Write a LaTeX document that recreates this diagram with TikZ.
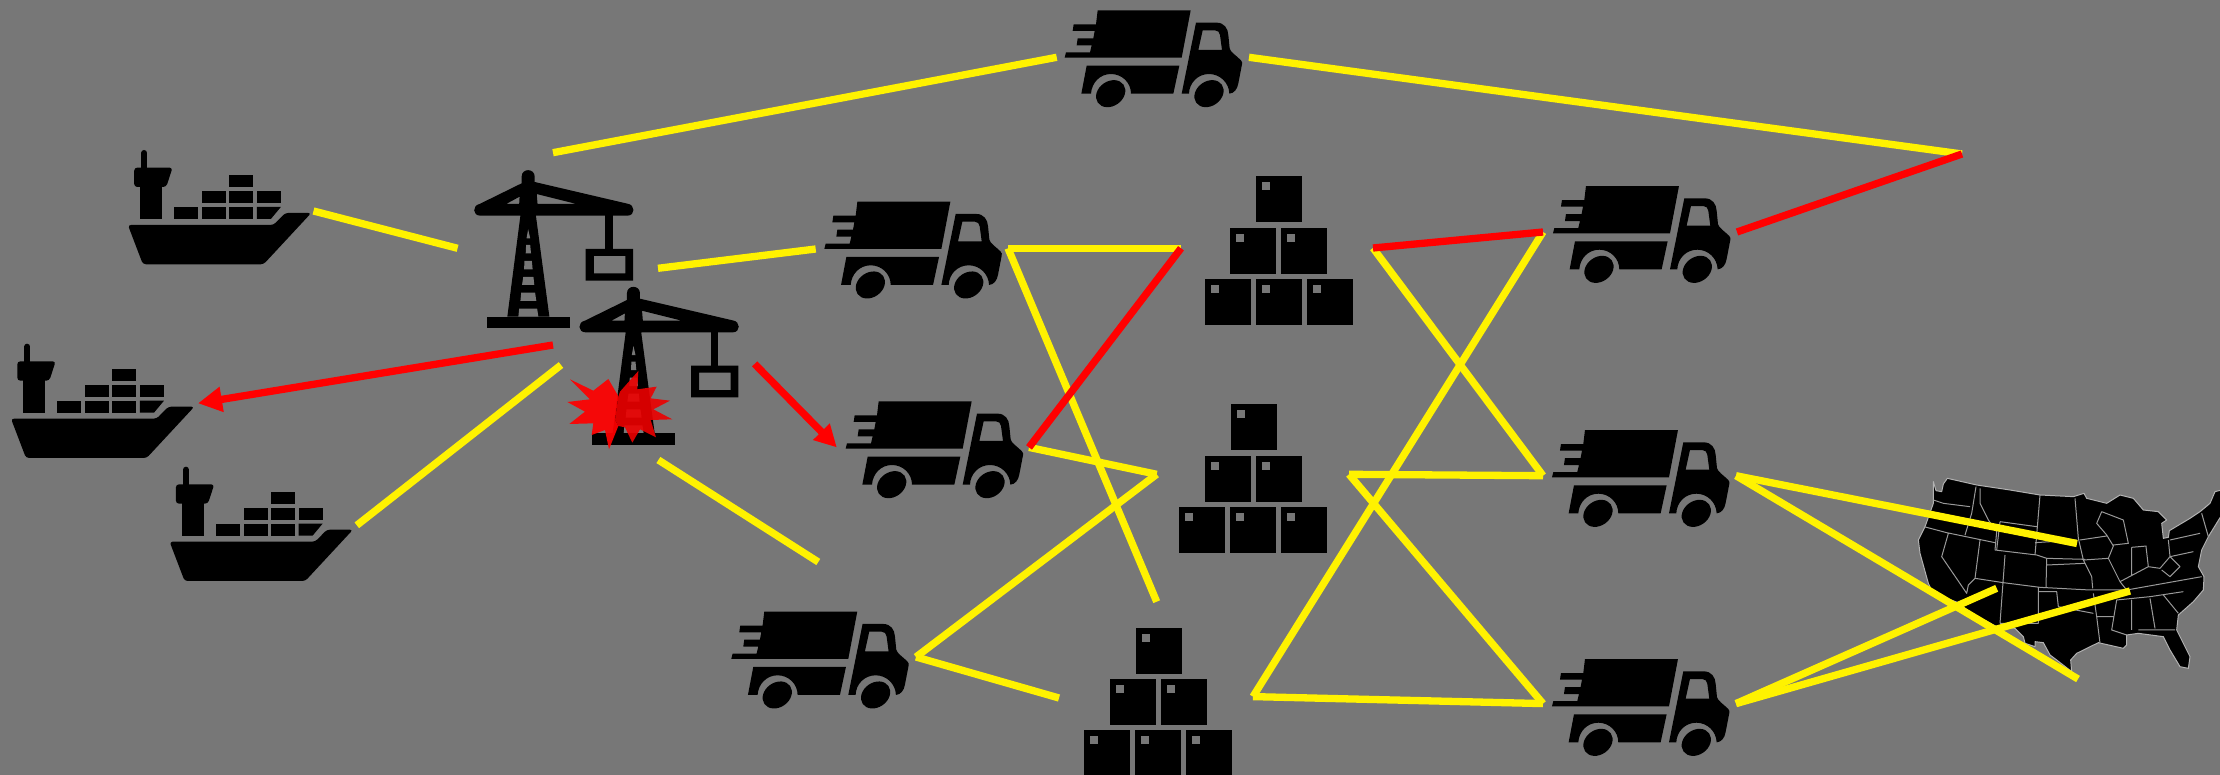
\documentclass[tikz,border=0pt]{standalone}
\usetikzlibrary{arrows.meta}
\definecolor{bgc}{HTML}{777777}
\def\usaoutline{(100,65) -- (108,92) -- (125,95) -- (130,72) -- (142,55) -- (230,75) -- (330,90) -- (420,105) -- (520,110) -- (552,100) -- (560,115) -- (620,130) -- (660,105) -- (700,115) -- (730,150) -- (775,155) -- (800,180) -- (785,190) -- (790,235) -- (805,232) -- (808,212) -- (870,175) -- (900,155) -- (930,130) -- (945,95) -- (965,90) -- (965,165) -- (925,230) -- (905,270) -- (895,320) -- (912,350) -- (910,390) -- (880,425) -- (835,465) -- (830,510) -- (870,590) -- (865,625) -- (840,620) -- (810,570) -- (790,530) -- (715,520) -- (680,525) -- (680,555) -- (670,565) -- (595,548) -- (530,580) -- (512,600) -- (515,635) -- (470,600) -- (450,585) -- (430,548) -- (405,545) -- (405,560) -- (375,550) -- (370,530) -- (345,505) -- (290,500) -- (205,455) -- (180,430) -- (100,400) -- (85,370) -- (60,280) -- (55,240) -- (75,200) -- (100,130) -- cycle}
\tikzset{
  yline/.style={draw=yellow,line width=7.3pt},
  rline/.style={draw=red,line width=7.3pt},
  cargobox/.pic={
    \fill (0,0) rectangle (46,46);
    \fill[bgc] (6,6) rectangle (14,14);
  },
  boxpile/.pic={
    \foreach \dx/\dy in {0/0,51/0,102/0,25.7/-51,76.7/-51,51.3/-102.5}{
      \pic at (\dx,\dy) {cargobox};
    }
  },
  truck/.pic={
    \begin{scope}[x=0.33333pt,y=-0.33333pt]
    \fill (893,31) -- (1172,31) -- (1145,173) -- (794,173) -- (798,157) -- (870,157) -- (875,136) -- (830,136) -- (833,115) -- (880,115) -- (884,93) -- (818,93) -- (821,73) -- (888,73) -- cycle;
    \fill (860,197) -- (1138,197) -- (1120,281) -- (993,281) .. controls (993,248) and (966,222) .. (933,222) .. controls (900,222) and (875,248) .. (873,281) -- (844,281) -- cycle;
    \fill[even odd rule] (1188,68) -- (1250,68) .. controls (1272,68) and (1284,85) .. (1285,105) -- (1289,145) .. controls (1290,155) and (1310,168) .. (1322,180) .. controls (1327,185) and (1327,188) .. (1326,193) -- (1315,250) .. controls (1312,268) and (1302,280) .. (1288,281) .. controls (1287,248) and (1260,222) .. (1227,222) .. controls (1194,222) and (1168,248) .. (1167,281) -- (1145,281) -- cycle
      (1208,91) -- (1245,91) .. controls (1254,91) and (1259,97) .. (1260,105) -- (1266,150) -- (1195,150) -- cycle;
    \fill[shift={(932,281)},rotate=35] (0,0) ellipse[x radius=47,y radius=37];
    \fill[shift={(1227,281)},rotate=35] (0,0) ellipse[x radius=47,y radius=37];
    \end{scope}
  },
  ship/.pic={
    \begin{scope}[x=0.33333pt,y=-0.33333pt]
    \draw[line width=6pt,line cap=round] (82,50) -- (82,100);
    \fill[rounded corners=3pt] (52,94) -- (167,94) -- (148,152) -- (52,152) -- cycle;
    \fill (70,148) rectangle (136,248);
    \fill (171,212) rectangle (243,248);
    \fill (255,212) rectangle (327,248);
    \fill (336,212) rectangle (408,248);
    \fill (420,212) -- (492,212) -- (462,248) -- (420,248) -- cycle;
    \fill (255,165) rectangle (327,201);
    \fill (336,165) rectangle (408,201);
    \fill (420,165) rectangle (492,201);
    \fill (336,117) rectangle (408,153);
    \fill[rounded corners=3pt] (33,266) -- (470,266) -- (505,230) -- (583,230) -- (440,384) -- (78,384) -- cycle;
    \end{scope}
  },
  crane/.pic={
    \begin{scope}[x=0.40816pt,y=-0.33333pt]
    \fill[even odd rule] (1033,140) .. controls (1033,114) and (1065,114) .. (1065,140) -- (1065,156) -- (1292,221)
      .. controls (1312,224) and (1312,257) .. (1292,257) -- (1068,257) -- (1101,560) -- (998,560) -- (1030,257) -- (932,257)
      .. controls (912,257) and (912,226) .. (930,222) -- (1033,160) -- cycle
      (995,222) -- (1028,200) -- (1027,222) -- cycle
      (1070,192) -- (1168,222) -- (1072,222) -- cycle;
    \fill[bgc] (1049,298) -- (1054,325) -- (1045,325) -- cycle;
    \fill[bgc] (1044,345) -- (1054,345) -- (1056,370) -- (1043,370) -- cycle;
    \fill[bgc] (1040,393) -- (1058,393) -- (1060,418) -- (1039,418) -- cycle;
    \fill[bgc] (1037,441) -- (1062,441) -- (1064,465) -- (1034,465) -- cycle;
    \fill[bgc] (1032,488) -- (1066,488) -- (1069,513) -- (1030,513) -- cycle;
    \fill[bgc] (1027,536) -- (1071,536) -- (1074,560) -- (1025,560) -- cycle;
    \fill (948,560) rectangle (1151,595);
    \fill (1238,250) rectangle (1257,360);
    \fill[even odd rule] (1190,357) rectangle (1306,452) (1210,378) rectangle (1287,430);
    \end{scope}
  },
  usamap/.pic={
    \begin{scope}[x=0.33333pt,y=-0.33333pt]
    \begin{scope}
    \clip (0,0) rectangle (960,720);
    \fill \usaoutline;
    \draw[line width=1pt,draw=white!70!black,line join=round] \usaoutline;
    \draw[line width=1pt,draw=white!60!black,line join=round]
      (100,120) -- (130,130) -- (210,140)
      (72,200) -- (140,218) -- (285,248)
      (240,85) -- (240,130) -- (265,180) -- (290,215) -- (285,270) -- (410,285) -- (440,295) -- (555,298)
      (228,80) -- (215,160) -- (195,225)
      (145,220) -- (125,290) -- (200,400) -- (205,375) -- (225,355)
      (240,240) -- (225,355) -- (310,368) -- (420,382) -- (570,390) -- (680,390) -- (905,350)
      (300,185) -- (410,200)
      (300,185) -- (290,270)
      (420,105) -- (405,285)
      (405,248) -- (530,240)
      (315,285) -- (300,490)
      (440,295) -- (438,382)
      (440,315) -- (555,310)
      (525,115) -- (535,235) -- (550,300) -- (575,350) -- (578,385)
      (540,240) -- (620,228)
      (550,300) -- (625,295)
      (605,155) -- (590,190) -- (620,225) -- (640,258) -- (625,295) -- (660,365) -- (680,390)
      (605,155) -- (670,180) -- (685,250) -- (640,255)
      (695,262) -- (695,345)
      (738,260) -- (745,320)
      (695,262) -- (740,258)
      (805,240) -- (810,290)
      (745,320) -- (780,325) -- (810,290)
      (785,330) -- (810,350) -- (840,320) -- (810,290)
      (810,240) -- (900,220)
      (810,290) -- (880,275)
      (650,420) -- (750,410) -- (850,395)
      (695,420) -- (695,510)
      (750,415) -- (765,505)
      (715,510) -- (825,510)
      (790,405) -- (835,460)
      (580,400) -- (590,470) -- (640,470)
      (590,470) -- (600,550)
      (650,420) -- (635,510) -- (680,525)
      (415,380) -- (415,490) -- (300,490)
      (415,395) -- (470,395) -- (475,440) -- (580,460)
      (905,160) -- (925,230)
      (660,365) -- (745,320);
    \end{scope}
    \end{scope}
  },
  burst/.pic={
    \begin{scope}[x=0.33333pt,y=-0.33333pt]
    \fill[red,opacity=.93] (30,118) -- (100,152) -- (145,117) -- (170,160) -- (175,170) -- (165,240) -- (175,258) -- (147,328) -- (135,270) -- (95,285) -- (100,250) -- (28,252) -- (75,215) -- (22,186) -- (90,178) -- cycle;
    \fill[red!93!black,opacity=.9] (235,93) -- (232,148) -- (290,140) -- (272,175) -- (330,182) -- (280,208) -- (337,238) -- (272,240) -- (288,292) -- (240,268) -- (217,308) -- (195,262) -- (175,258) -- (165,240) -- (175,170) -- (180,155) -- cycle;
    \end{scope}
  }
}
\begin{document}
\begin{tikzpicture}[x=1pt,y=-1pt]
\useasboundingbox (0,0) rectangle (2220,775);
\fill[bgc] (0,0) rectangle (2220,775);
% ships
\pic (shipA) at (116.9,136.3) {ship};
\pic (shipB) at (0,330) {ship};
\pic (shipC) at (158.6,453) {ship};
% cranes
\pic (craneA) at (100,130) {crane};
\pic (craneB) at (205.3,246.7) {crane};
\pic (burstA) at (560,340) {burst};
% trucks
\pic (truckA) at (800,0) {truck};
\pic (truckB) at (559.7,191.3) {truck};
\pic (truckC) at (581,391) {truck};
\pic (truckD) at (466.6,601.3) {truck};
\pic (truckE) at (1288.3,175.7) {truck};
\pic (truckF) at (1287.3,419.7) {truck};
\pic (truckG) at (1287.3,648.7) {truck};
% boxes
\pic (pileA) at (1204.7,278.7) {boxpile};
\pic (pileB) at (1179.2,506.7) {boxpile};
\pic (pileC) at (1084.4,730.3) {boxpile};
% map
\pic (usa) at (1900,460) {usamap};
% connector ends
\coordinate (a1) at (553,152.7);
\coordinate (a2) at (1056.7,57.3);
\coordinate (a3) at (1249,57.3);
\coordinate (a4) at (1962,154);
\coordinate (a5) at (1737,232);
\coordinate (b1) at (313.5,211);
\coordinate (b2) at (457.6,248.3);
\coordinate (c1) at (658,268.3);
\coordinate (c2) at (815.7,249);
\coordinate (d1) at (553,345);
\coordinate (d2) at (198,403.3);
\coordinate (e1) at (561,365);
\coordinate (e2) at (356.8,525.3);
\coordinate (f1) at (754.6,363.9);
\coordinate (f2) at (836.8,447.4);
\coordinate (g1) at (658.4,460);
\coordinate (g2) at (818.3,562);
\coordinate (h1) at (1181,248.3);
\coordinate (h2) at (1008,248.3);
\coordinate (h3) at (1156.7,601.7);
\coordinate (i1) at (1029,447.4);
\coordinate (i2) at (1156.7,474.3);
\coordinate (i3) at (916,657);
\coordinate (i4) at (1059,698);
\coordinate (j1) at (1373,248);
\coordinate (j2) at (1543,232);
\coordinate (j3) at (1543,475.7);
\coordinate (j4) at (1349,474.3);
\coordinate (j5) at (1543,703.6);
\coordinate (j6) at (1253,696.6);
\coordinate (k1) at (1736,475.7);
\coordinate (k2) at (2077,543.5);
\coordinate (k3) at (2078,679);
\coordinate (l1) at (1736,703.6);
\coordinate (l2) at (1996.7,588.3);
\coordinate (l3) at (2130,591);
% yellow connectors
\draw[yline] (a1) -- (a2);
\draw[yline] (a3) -- (a4);
\draw[yline] (b1) -- (b2);
\draw[yline] (c1) -- (c2);
\draw[yline] (e1) -- (e2);
\draw[yline] (g1) -- (g2);
\draw[yline] (h1) -- (h2);
\draw[yline] (h2) -- (h3);
\draw[yline] (i1) -- (i2);
\draw[yline] (i2) -- (i3);
\draw[yline] (i3) -- (i4);
\draw[yline] (j1) -- (j3);
\draw[yline] (j3) -- (j4);
\draw[yline] (j4) -- (j5);
\draw[yline] (j5) -- (j6);
\draw[yline] (j6) -- (j2);
\draw[yline] (k1) -- (k2);
\draw[yline] (k1) -- (k3);
\draw[yline] (l1) -- (l2);
\draw[yline] (l1) -- (l3);
% red connectors
\draw[rline] (a4) -- (a5);
\draw[rline] (h1) -- (i1);
\draw[rline] (j1) -- (j2);
\draw[rline,-{Triangle[length=24pt,width=24pt]}] (d1) -- (d2);
\draw[rline,-{Triangle[length=22pt,width=22pt]}] (f1) -- (f2);
\end{tikzpicture}
\end{document}
